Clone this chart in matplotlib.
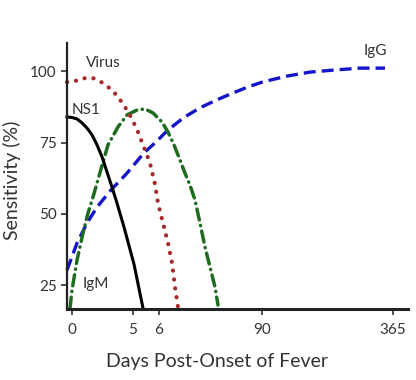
import matplotlib
matplotlib.use("Agg")
import matplotlib.pyplot as plt

plt.rcParams['font.family'] = ['Lato', 'DejaVu Sans']

# Schematic x positions (non-linear day axis) and tick labels
x_ticks = [0, 61, 87, 190, 321]
x_ticklabels = ["0", "5", "6", "90", "365"]
y_ticks = [25, 50, 75, 100]

ns1_x = [-5, 0, 5, 10, 15, 20, 25, 30, 35, 40, 45, 52, 62, 71]
ns1_y = [84.0, 83.8, 83.3, 81.9, 80.1, 77.7, 74.2, 70.0, 64.7, 59.4, 53.8, 45.4, 32.4, 17.0]

virus_x = [-5, 3, 13, 21, 31, 40, 46, 53, 60, 66, 73, 78, 83, 86, 91, 96, 100, 103, 106]
virus_y = [96.2, 96.6, 97.6, 97.6, 95.9, 93.4, 91.0, 87.5, 83.3, 78.7, 72.4, 67.8,
           60.4, 53.8, 46.8, 39.8, 32.8, 24.4, 17.4]

igm_x = [-2, 0, 5, 11, 16, 21, 27, 36, 46, 55, 65, 73, 81, 90, 96, 102, 108, 113,
         118, 123, 128, 133, 138, 143, 146]
igm_y = [17.0, 23.3, 33.8, 43.3, 50.3, 55.9, 63.3, 74.2, 80.5, 84.7, 86.4, 86.8,
         85.4, 82.2, 78.7, 74.2, 68.9, 64.3, 60.1, 54.9, 46.8, 38.4, 31.4, 24.4, 18.1]

igg_x = [-5, 5, 15, 25, 39, 55, 72, 83, 95, 111, 128, 145, 161, 176, 191, 215,
         238, 261, 288, 313]
igg_y = [30.3, 39.8, 46.8, 52.4, 58.4, 64.3, 71.4, 74.9, 79.1, 83.6, 87.2, 90.0,
         92.4, 94.5, 96.3, 98.3, 99.7, 100.4, 101.1, 101.1]

labels = ["Virus", "NS1", "IgM", "IgG"]
label_x = [31, 14, 24, 303]
label_y = [102.9, 86.4, 25.4, 107.1]

fig = plt.figure(figsize=(4.16, 3.80), dpi=100)
ax = fig.add_axes([67/416, 1 - 309/380, (408 - 67)/416, (309 - 43)/380])

ax.plot(igg_x, igg_y, color='#1414c8', lw=2.4, linestyle=(0, (3.6, 1.8)),
        solid_capstyle='butt', dash_capstyle='butt', clip_on=False)
ax.plot(igm_x, igm_y, color='#1f6b1f', lw=2.5, linestyle=(0, (3.2, 1.6, 0.1, 1.6)),
        dash_capstyle='round', clip_on=False)
ax.plot(virus_x, virus_y, color='#a52a2a', lw=3.0, linestyle=(0, (0.05, 2.1)),
        dash_capstyle='round', clip_on=False)
ax.plot(ns1_x, ns1_y, color='black', lw=2.2, clip_on=False)

for t, tx, ty in zip(labels, label_x, label_y):
    ax.text(tx, ty, t, ha='center', va='center', fontsize=11, color='#333333')

ax.set_xlim(-5, 336)
ax.set_ylim(16.7, 109.9)
ax.set_xticks(x_ticks)
ax.set_xticklabels(x_ticklabels)
ax.set_yticks(y_ticks)
ax.tick_params(axis='both', labelsize=11, labelcolor='#333333', length=4, width=1.2,
               direction='out', color='#333333')
ax.tick_params(axis='x', pad=6)

for s in ['top', 'right']:
    ax.spines[s].set_visible(False)
ax.spines['left'].set_linewidth(1.6)
ax.spines['bottom'].set_linewidth(2.2)
ax.spines['left'].set_color('#222222')
ax.spines['bottom'].set_color('#222222')

ax.set_xlabel("Days Post-Onset of Fever", fontsize=14, color='#333333')
ax.xaxis.set_label_coords((217 - 67) / 341, -(353 - 309) / 266)
ax.set_ylabel("Sensitivity (%)", fontsize=14, color='#333333')
ax.yaxis.set_label_coords(-(67 - 21) / 341, (309 - 180) / 266)

fig.savefig("out.png", dpi=100)
